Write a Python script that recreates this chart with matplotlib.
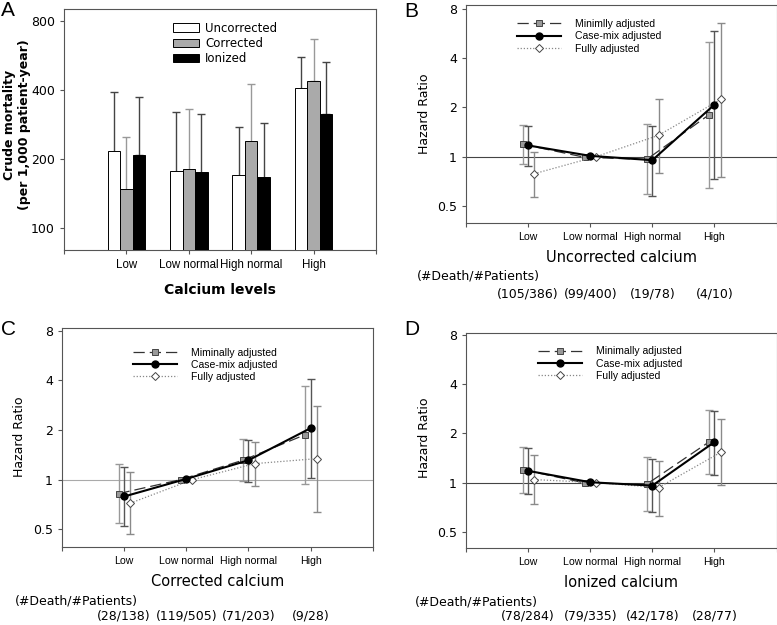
import numpy as np
import matplotlib
matplotlib.use('Agg')
import matplotlib.pyplot as plt
from matplotlib.lines import Line2D
from matplotlib.patches import Patch

plt.rcParams['font.family'] = ['DejaVu Sans']

# ---- data ----
categories = ['Low', 'Low normal', 'High normal', 'High']

# panel A: crude mortality (per 1,000 patient-year) and upper error
uncorr = [215, 176, 169, 405]
uncorr_hi = [392, 320, 275, 555]
corr = [146, 179, 237, 437]
corr_hi = [248, 329, 425, 664]
ion = [207, 174, 165, 314]
ion_hi = [373, 314, 286, 530]

# panel B: uncorrected calcium (hazard ratio, lower CI, upper CI)
b_min = [1.19, 0.99, 0.96, 1.80]
b_min_lo = [0.90, 0.99, 0.587, 0.64]
b_min_hi = [1.566, 0.99, 1.58, 5.06]
b_case = [1.17, 1.01, 0.95, 2.08]
b_case_lo = [0.877, 1.01, 0.574, 0.73]
b_case_hi = [1.53, 1.01, 1.55, 5.86]
b_full = [0.785, 1.0, 1.35, 2.24]
b_full_lo = [0.568, 1.0, 0.79, 0.754]
b_full_hi = [1.073, 1.0, 2.25, 6.62]
b_counts = ['(105/386)', '(99/400)', '(19/78)', '(4/10)']

# panel C: corrected calcium
c_min = [0.822, 1.0, 1.31, 1.87]
c_min_lo = [0.545, 1.0, 0.976, 0.946]
c_min_hi = [1.246, 1.0, 1.77, 3.70]
c_case = [0.79, 1.01, 1.31, 2.05]
c_case_lo = [0.52, 1.01, 0.968, 1.02]
c_case_hi = [1.19, 1.01, 1.75, 4.10]
c_full = [0.72, 1.0, 1.25, 1.34]
c_full_lo = [0.467, 1.0, 0.92, 0.636]
c_full_hi = [1.11, 1.0, 1.69, 2.80]
c_counts = ['(28/138)', '(119/505)', '(71/203)', '(9/28)']

# panel D: ionized calcium
d_min = [1.20, 0.995, 0.977, 1.77]
d_min_lo = [0.865, 0.995, 0.667, 1.135]
d_min_hi = [1.66, 0.995, 1.43, 2.77]
d_case = [1.18, 1.005, 0.958, 1.77]
d_case_lo = [0.856, 1.005, 0.659, 1.12]
d_case_hi = [1.62, 1.005, 1.39, 2.75]
d_full = [1.043, 1.0, 0.932, 1.53]
d_full_lo = [0.744, 1.0, 0.628, 0.968]
d_full_hi = [1.47, 1.0, 1.36, 2.44]
d_counts = ['(78/284)', '(79/335)', '(42/178)', '(28/77)']

W, H = 777, 625
fig = plt.figure(figsize=(W / 100, H / 100), dpi=100)


def axes_px(left, top, right, bottom):
    return fig.add_axes([left / W, 1 - bottom / H, (right - left) / W, (bottom - top) / H])


def style_axes(ax, xsize):
    for s in ax.spines.values():
        s.set_color('#555555')
        s.set_linewidth(0.8)
    ax.tick_params(axis='both', which='major', direction='out', length=3,
                   width=0.8, color='#555555')
    ax.tick_params(axis='both', which='minor', length=0)
    ax.set_xlim(0, 5)
    ax.set_xticks([0, 1, 2, 3, 4, 5])
    ax.set_xticklabels([''] + categories + [''], family='Liberation Sans', fontsize=xsize)


def below(ax, x, px, text, **kw):
    ax.annotate(text, xy=(x, 0), xycoords=('data', 'axes fraction'),
                xytext=(0, -px * 0.72), textcoords='offset points',
                ha='center', va='center', **kw)


x = np.arange(1, 5)

# ---- panel A ----
axA = axes_px(64, 8.5, 376, 250)
style_axes(axA, 8.3)
axA.set_yscale('log')
axA.set_ylim(80, 905)
bw = 0.2
series_a = [(uncorr, uncorr_hi, 'white', '#444444', 'Uncorrected'),
            (corr, corr_hi, '#aaaaaa', '#999999', 'Corrected'),
            (ion, ion_hi, 'black', '#444444', 'Ionized')]
for i, (vals, hi, fc, ec, lab) in enumerate(series_a):
    pos = x + (i - 1) * bw
    vals = np.array(vals)
    axA.bar(pos, vals, width=bw, bottom=1, color=fc, edgecolor='black',
            linewidth=0.7, zorder=3)
    axA.errorbar(pos, vals, yerr=[np.zeros(4), np.array(hi) - vals], fmt='none',
                 ecolor=ec, elinewidth=1.0, capsize=3, capthick=1.0, zorder=2)
axA.set_yticks([100, 200, 400, 800])
axA.set_yticklabels(['100', '200', '400', '800'], fontsize=9)
below(axA, 2.5, 40, 'Calcium levels', fontsize=10, fontweight='bold')
fig.text(17 / W, 1 - 125 / H, 'Crude mortality\n(per 1,000 patient-year)', rotation=90,
         ha='center', va='center', fontsize=9, fontweight='bold', linespacing=1.15)
handles_a = [Patch(facecolor=fc, edgecolor='black', linewidth=0.7, label=lab)
             for _, _, fc, _, lab in series_a]
axA.legend(handles=handles_a, loc='upper left', bbox_to_anchor=(173 / W, 1 - 21.5 / H),
           bbox_transform=fig.transFigure, frameon=False, fontsize=8.5, borderpad=0,
           handlelength=2.2, handleheight=0.7, handletextpad=0.5, labelspacing=0.2,
           borderaxespad=0)
fig.text(1 / W, 1 - 1 / H, 'A', fontsize=15, family='Liberation Sans', ha='left', va='top')

# ---- hazard ratio panels ----
min_style = dict(color='#333333', linestyle=(0, (9, 4)), linewidth=0.9, marker='s',
                 markerfacecolor='#999999', markeredgecolor='#444444', markersize=4.5,
                 markeredgewidth=0.7)
case_style = dict(color='black', linestyle='-', linewidth=1.5, marker='o',
                  markerfacecolor='black', markeredgecolor='black', markersize=5)
full_style = dict(color='#888888', linestyle=(0, (1, 1.5)), linewidth=0.9, marker='D',
                  markerfacecolor='white', markeredgecolor='#444444', markersize=4,
                  markeredgewidth=0.7)


def hazard_panel(box, ylim, series, names, xlabel, counts, count_px, letter, letter_xy,
                 ylabel_xy, death_xy, legend_xy, offs, ref_color):
    ax = axes_px(*box)
    style_axes(ax, 7.6)
    ax.set_yscale('log')
    ax.set_ylim(*ylim)
    ax.set_yticks([0.5, 1, 2, 4, 8])
    ax.set_yticklabels(['0.5', '1', '2', '4', '8'], fontsize=9)
    ax.axhline(1, color=ref_color, linewidth=0.8, zorder=1)
    styles = [min_style, case_style, full_style]
    ecols = ['#999999', '#555555', '#8a8a8a']
    handles = []
    for k, ((v, lo, hi), st, ec, nm) in enumerate(zip(series, styles, ecols, names)):
        v = np.array(v)
        pos = x + offs[k]
        ax.errorbar(pos, v, yerr=[v - np.array(lo), np.array(hi) - v], fmt='none',
                    ecolor=ec, elinewidth=1.0, capsize=3, capthick=1.0, zorder=2)
        ax.plot(pos, v, zorder=3 + k % 2, **st)
        handles.append(Line2D([], [], label=nm, **st))
    ax.legend(handles=handles, loc='upper left', bbox_to_anchor=legend_xy,
              bbox_transform=fig.transFigure, frameon=False,
              prop={'family': 'Liberation Sans', 'size': 7.5}, borderpad=0,
              handlelength=4.2, handletextpad=1.4, labelspacing=0.22, borderaxespad=0)
    below(ax, 2.5, 34.5, xlabel, fontsize=10.5)
    for xi, c in zip(x, counts):
        below(ax, xi, count_px, c, fontsize=9)
    fig.text(death_xy[0] / W, 1 - death_xy[1] / H, '(#Death/#Patients)', fontsize=9,
             ha='left', va='center')
    fig.text(ylabel_xy[0] / W, 1 - ylabel_xy[1] / H, 'Hazard Ratio', rotation=90,
             ha='center', va='center', fontsize=9)
    fig.text(letter_xy[0] / W, 1 - letter_xy[1] / H, letter, fontsize=15,
             family='Liberation Sans', ha='left', va='top')
    return ax


names_b = ['Minimlly adjusted', 'Case-mix adjusted', 'Fully adjusted']
names_c = ['Miminally adjusted', 'Case-mix adjusted', 'Fully adjusted']
names_d = ['Minimally adjusted', 'Case-mix adjusted', 'Fully adjusted']
offs = [-0.09, 0.0, 0.1]

hazard_panel((466, 5, 776.5, 222.7), (0.393, 8.5),
             [(b_min, b_min_lo, b_min_hi), (b_case, b_case_lo, b_case_hi),
              (b_full, b_full_lo, b_full_hi)],
             names_b, 'Uncorrected calcium', b_counts, 71, 'B', (404, 2),
             (425, 114), (417, 276), (517 / W, 1 - 19 / H), offs, '#444444')

hazard_panel((62, 328, 372.7, 546.7), (0.392, 8.3),
             [(c_min, c_min_lo, c_min_hi), (c_case, c_case_lo, c_case_hi),
              (c_full, c_full_lo, c_full_hi)],
             names_c, 'Corrected calcium', c_counts, 69.5, 'C', (1, 320),
             (20, 437), (15, 601), (133 / W, 1 - 347.5 / H), offs, '#aaaaaa')

hazard_panel((466, 333.3, 776.5, 548.3), (0.396, 8.2),
             [(d_min, d_min_lo, d_min_hi), (d_case, d_case_lo, d_case_hi),
              (d_full, d_full_lo, d_full_hi)],
             names_d, 'Ionized calcium', d_counts, 68, 'D', (404, 320),
             (425, 438), (415, 602), (538 / W, 1 - 346.5 / H), offs, '#444444')

fig.savefig('out.png', dpi=100)
